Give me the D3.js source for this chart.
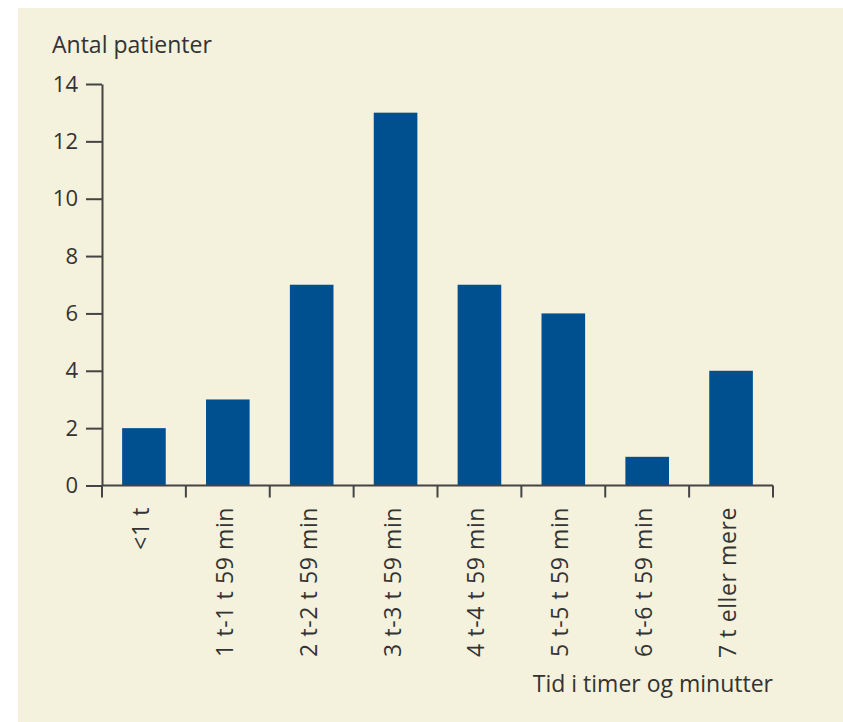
<!DOCTYPE html>
<html lang="da">
<head>
<meta charset="UTF-8">
<title>Antal patienter</title>
<script src="https://d3js.org/d3.v7.min.js"></script>
<style>
  body { margin: 0; background: #fff; }
  text { font-family: "Open Sans", "Liberation Sans", Arial, sans-serif; fill: #333; }
</style>
</head>
<body>
<script>
// data
const categories = ["<1 t", "1 t-1 t 59 min", "2 t-2 t 59 min", "3 t-3 t 59 min",
                    "4 t-4 t 59 min", "5 t-5 t 59 min", "6 t-6 t 59 min", "7 t eller mere"];
const patients = [2, 3, 7, 13, 7, 6, 1, 4];
const yTicks = [0, 2, 4, 6, 8, 10, 12, 14];

const W = 843, H = 722;
const plotLeft = 102, plotRight = 773, plotTop = 84, plotBottom = 485.5;
const fs = 23;

const svg = d3.select("body").append("svg")
    .attr("width", W)
    .attr("height", H);

// beige panel
svg.append("rect")
    .attr("x", 18).attr("y", 8)
    .attr("width", W - 18).attr("height", H - 8)
    .attr("fill", "#f4f1dc");

const x = d3.scaleBand()
    .domain(categories)
    .range([plotLeft, plotRight])
    .paddingInner(0.48)
    .paddingOuter(0.24);

const y = d3.scaleLinear()
    .domain([0, 14])
    .range([plotBottom, plotTop]);

// bars
svg.selectAll("rect.bar")
    .data(patients)
    .enter().append("rect")
    .attr("class", "bar")
    .attr("x", (d, i) => x(categories[i]))
    .attr("y", d => y(d))
    .attr("width", x.bandwidth())
    .attr("height", d => plotBottom - y(d))
    .attr("fill", "#00508f");

// y axis
const yAxis = svg.append("g")
    .attr("transform", `translate(${plotLeft},0)`)
    .call(d3.axisLeft(y).tickValues(yTicks).tickSize(16).tickPadding(8).tickSizeOuter(0));
yAxis.select(".domain").attr("stroke", "#444").attr("stroke-width", 2);
yAxis.selectAll(".tick line").attr("stroke", "#444").attr("stroke-width", 2);
yAxis.selectAll(".tick text")
    .attr("font-size", 22)
    .attr("font-family", "Open Sans, sans-serif")
    .style("fill", "#333");

// x axis: baseline and boundary ticks
const step = (plotRight - plotLeft) / categories.length;
const bounds = d3.range(categories.length + 1).map(i => plotLeft + i * step);
svg.append("line")
    .attr("x1", plotLeft).attr("x2", plotRight)
    .attr("y1", plotBottom).attr("y2", plotBottom)
    .attr("stroke", "#444").attr("stroke-width", 2);
svg.selectAll("line.xtick")
    .data(bounds)
    .enter().append("line")
    .attr("class", "xtick")
    .attr("x1", d => d).attr("x2", d => d)
    .attr("y1", plotBottom).attr("y2", plotBottom + 12)
    .attr("stroke", "#444").attr("stroke-width", 2);

// rotated category labels
svg.selectAll("text.xlab")
    .data(categories)
    .enter().append("text")
    .attr("class", "xlab")
    .attr("transform", d => `translate(${x(d) + x.bandwidth() / 2 + 5},507) rotate(-90)`)
    .attr("text-anchor", "end")
    .attr("font-size", fs)
    .attr("letter-spacing", 0.6)
    .text(d => d);

// axis titles
svg.append("text")
    .attr("x", 52).attr("y", 53)
    .attr("font-size", fs)
    .text("Antal patienter");

svg.append("text")
    .attr("x", plotRight).attr("y", 692)
    .attr("text-anchor", "end")
    .attr("font-size", fs)
    .text("Tid i timer og minutter");
</script>
</body>
</html>
